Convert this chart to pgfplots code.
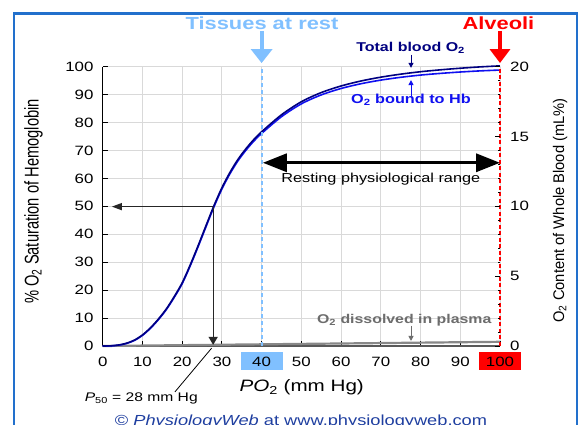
\documentclass[border=0pt]{standalone}
\usepackage{pgfplots}
\pgfplotsset{compat=1.18}
\usetikzlibrary{arrows.meta}
\usepackage{fontspec}
\setmainfont{Liberation Sans}[FakeStretch=1.25]
\newfontfamily\plainfont{Liberation Sans}
\definecolor{navy}{HTML}{000080}
\definecolor{hbblue}{HTML}{1010F0}
\definecolor{tissue}{HTML}{80C0FF}
\definecolor{bordercol}{HTML}{2270CC}
\definecolor{copyc}{HTML}{1F3FA0}
\definecolor{plasma}{HTML}{888888}
\newcommand\hl[2]{{\setlength{\fboxsep}{0pt}\colorbox{#1}{\makebox[42bp]{\vrule height 14bp depth 4bp width 0pt #2}}}}
\newcommand\fs[1]{\fontsize{#1bp}{#1bp}\selectfont}
\begin{document}
\begin{tikzpicture}
\useasboundingbox (0,0) rectangle (582bp,425bp);
\fill[white] (0,0) rectangle (582bp,425bp);
\begin{axis}[
  at={(102.7bp,79bp)}, anchor=south west, scale only axis,
  width=397.3bp, height=279.3bp,
  xmin=0, xmax=100, ymin=0, ymax=100,
  axis x line*=bottom, axis y line*=left,
  xtick={0,10,20,30,40,50,60,70,80,90,100},
  xticklabels={0,10,20,30,\hl{tissue}{40},50,60,70,80,90,\hl{red}{100}},
  ytick={0,10,20,30,40,50,60,70,80,90,100},
  yticklabels={0,10,20,30,40,50,60,70,80,90,100},
  grid=major, major grid style={black!15, line width=0.8bp},
  tick align=inside, major tick length=5bp,
  tick style={black, line width=0.8bp},
  x axis line style={black!65, line width=2.5bp, -},
  y axis line style={black, line width=1.5bp, -},
  xticklabel style={font=\fs{13.5}, inner sep=0pt, text height=14bp, text depth=4bp, yshift=-6bp},
  yticklabel style={font=\fs{13.5}, inner sep=0pt, xshift=-9bp},
  clip=false,
]
% O2 dissolved in plasma
\addplot[plasma, line width=2.2bp] coordinates {(0,0) (100,1.5)};
% O2 bound to Hb (% saturation)
\addplot[hbblue, line width=1.6bp, smooth] coordinates {
(0,0) (2,0.04) (4,0.3) (6,0.9) (8,2.0) (10,3.8) (12,6.3) (14,9.4) (16,13.0)
(18,17.4) (20,22.3) (22,28.6) (24,35.5) (26,42.7) (28,49.8) (30,56.2) (32,61.6)
(34,66.2) (36,70.0) (38,73.3) (40,76.1) (45,82.1) (50,86.7) (55,89.9) (60,92.2)
(65,93.9) (70,95.2) (75,96.2) (80,97.0) (85,97.6) (90,98.1) (95,98.5) (100,98.8)};
% Total blood O2
\addplot[navy, line width=1.6bp, smooth] coordinates {
(0,0) (2,0.07) (4,0.36) (6,0.99) (8,2.12) (10,3.95) (12,6.48) (14,9.61) (16,13.24)
(18,17.67) (20,22.6) (22,28.93) (24,35.86) (26,43.09) (28,50.22) (30,56.65) (32,62.08)
(34,66.71) (36,70.54) (38,73.87) (40,76.7) (45,82.78) (50,87.45) (55,90.73) (60,93.1)
(65,94.88) (70,96.25) (75,97.33) (80,98.2) (85,98.88) (90,99.45) (95,99.93) (100,100.3)};
% alveoli (right axis) line
\draw[red, line width=2bp, dash pattern=on 4bp off 2.5bp] (axis cs:100,0) -- (axis cs:100,100);
% tissues at rest line
\draw[tissue, line width=2bp, dash pattern=on 4bp off 3bp] (axis cs:40,0) -- (axis cs:40,100);
\draw[tissue, line width=4bp, -{Triangle[length=14bp,width=21bp]}] (axis cs:40,112.8) -- (axis cs:40,101.3);
\node[tissue, anchor=base, font=\fs{17.5}\bfseries, inner sep=0pt] at (axis cs:40.1,113.4) {Tissues at rest};
\draw[red, line width=4bp, -{Triangle[length=14bp,width=20bp]}] (axis cs:100,112.8) -- (axis cs:100,101.3);
\node[red, anchor=base, font=\fs{17.5}\bfseries, inner sep=0pt] at (axis cs:99.6,113.4) {Alveoli};
% curve labels
\node[navy, anchor=base, font=\fs{12.8}\bfseries, inner sep=0pt] at (axis cs:77.5,105.4) {Total blood O\textsubscript{2}};
\draw[navy, line width=1bp, -{Triangle[length=5bp,width=5bp]}] (axis cs:77.6,104.3) -- (axis cs:77.6,99.6);
\node[hbblue, anchor=base, font=\fs{13}\bfseries, inner sep=0pt] at (axis cs:77.6,86.9) {O\textsubscript{2} bound to Hb};
\draw[hbblue, line width=1bp, -{Triangle[length=5bp,width=5bp]}] (axis cs:77.6,89.4) -- (axis cs:77.6,95.2);
% resting range
\draw[black, line width=3.3bp, {Triangle[length=24bp,width=18bp]}-{Triangle[length=24bp,width=18bp]}] (axis cs:40.3,65.6) -- (axis cs:100,65.6);
\node[anchor=base, font=\fs{13}, inner sep=0pt] at (axis cs:70,58.5) {Resting physiological range};
% P50 arrows
\draw[black!85, line width=1.3bp, -{Triangle[length=10bp,width=7bp]}] (axis cs:27.8,49.9) -- (axis cs:2.3,49.9);
\draw[black!85, line width=1.3bp, -{Triangle[length=8bp,width=9bp]}] (axis cs:27.8,49.9) -- (axis cs:27.8,0.4);
\draw[black, line width=0.8bp] (axis cs:27.4,-0.8) -- (axis cs:18.2,-16.4);
\node[anchor=base, font=\fs{12.5}, inner sep=0pt] at (axis cs:9.7,-19.9) {\textit{P}\textsubscript{50} = 28 mm Hg};
% plasma
\node[plasma!80!black, anchor=base, font=\fs{12.7}\bfseries, inner sep=0pt] at (axis cs:75.9,8.1) {O\textsubscript{2} dissolved in plasma};
\draw[plasma!80!black, line width=1bp, -{Triangle[length=5bp,width=5bp]}] (axis cs:77.6,7.2) -- (axis cs:77.6,1.8);
% x label
\node[anchor=base, font=\fs{16.5}, inner sep=0pt] at (axis cs:50.1,-16.4) {\textit{PO}\textsubscript{2} (mm Hg)};
\end{axis}
\begin{axis}[
  at={(102.7bp,79bp)}, anchor=south west, scale only axis,
  width=397.3bp, height=279.3bp,
  xmin=0, xmax=100, ymin=0, ymax=20,
  axis x line=none, axis y line*=right,
  ytick={0,5,10,15,20}, yticklabels={0,5,10,15,20},
  minor ytick={1,2,3,4,6,7,8,9,11,12,13,14,16,17,18,19},
  tick align=inside, major tick length=5bp, minor tick length=2bp,
  tick style={black, line width=0.8bp},
  y axis line style={draw=none},
  yticklabel style={font=\fs{13.5}, inner sep=0pt, anchor=west, xshift=10bp},
]
\end{axis}
% y labels
\node[rotate=90, inner sep=0pt] at (33.5bp,223.5bp) {\scalebox{1}[1.35]{\plainfont\fs{14.7}\% O\textsubscript{2} Saturation of Hemoglobin}};
\node[rotate=90, inner sep=0pt] at (560bp,214.5bp) {\scalebox{1}[1.05]{\plainfont\fs{14.7}O\textsubscript{2} Content of Whole Blood (mL\%)}};
% copyright
\node[copyc, anchor=base, font=\fs{14.6}, inner sep=0pt] at (301bp,-0.5bp) {© \textit{PhysiologyWeb} at www.physiologyweb.com};
% border
\draw[bordercol, line width=2.5bp] (14bp,-10bp) -- (14bp,411.7bp) -- (577bp,411.7bp) -- (577bp,-10bp);
\end{tikzpicture}
\end{document}
